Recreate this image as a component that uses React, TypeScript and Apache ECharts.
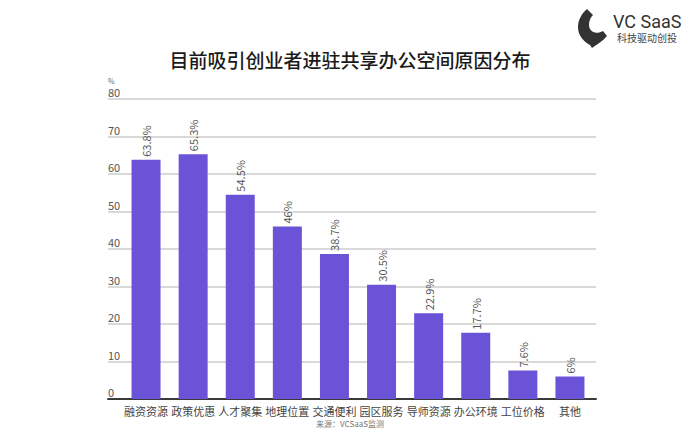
import React, { useEffect, useRef } from "react";
import * as echarts from "echarts";

const categories = ["融资资源", "政策优惠", "人才聚集", "地理位置", "交通便利", "园区服务", "导师资源", "办公环境", "工位价格", "其他"];
const values = [63.8, 65.3, 54.5, 46, 38.7, 30.5, 22.9, 17.7, 7.6, 6];
const titleText = "目前吸引创业者进驻共享办公空间原因分布";
const sourceText = "来源：VCSaaS监测";
const brandName = "VC SaaS";
const brandSlogan = "科技驱动创投";

const LOGO_D =
  "M 9 0 L 15 6 C 11 10 10 16 12 20 C 14 24 20 25 25 22 L 29 27 C 25 32 19 35 14 39 L 12 36 C 5 32 0 26 0 18 C 0 11 4 4 9 0 Z";
echarts.graphic.registerShape("logo", echarts.graphic.extendPath(LOGO_D, {}) as any);

export default function App() {
  const ref = useRef<HTMLDivElement>(null);
  useEffect(() => {
    if (!ref.current) return;
    const chart = echarts.init(ref.current, null, { renderer: "svg" });
    const font = "'Noto Sans CJK SC', 'Noto Sans', sans-serif";
    chart.setOption({
      animation: false,
      backgroundColor: "#ffffff",
      textStyle: { fontFamily: font },
      title: {
        text: titleText,
        left: "center",
        top: 45,
        textStyle: { fontSize: 19, fontWeight: 500, color: "#1a1a1a", fontFamily: font },
      },
      grid: [
        { left: 108, right: 104, top: 99, bottom: 36 },
        { left: 122.5, right: 106.5, top: 99, bottom: 36 },
      ],
      xAxis: [
        {
          gridIndex: 0,
          type: "value",
          min: 0,
          max: 1,
          axisLine: { show: true, lineStyle: { color: "#3a3a3a", width: 2 } },
          axisTick: { show: false },
          axisLabel: { show: false },
          splitLine: { show: false },
        },
        {
          gridIndex: 1,
          type: "category",
          data: categories,
          axisLine: { show: false },
          axisTick: { show: false },
          axisLabel: { color: "#444", fontSize: 11, margin: 6, interval: 0 },
        },
      ],
      yAxis: [
        {
          gridIndex: 0,
          type: "value",
          min: 0,
          max: 80,
          interval: 10,
          name: "%",
          nameLocation: "end",
          nameGap: 15,
          nameTextStyle: { fontSize: 7, color: "#666", align: "left", lineHeight: 7 },
          axisLine: { show: false },
          axisTick: { show: false },
          axisLabel: {
            inside: true,
            margin: 0,
            align: "left",
            verticalAlign: "bottom",
            lineHeight: 10,
            padding: [0, 0, 2, 0],
            color: "#555",
            fontSize: 11,
          },
          splitLine: { show: true, lineStyle: { color: "#cccccc", width: 1.5 } },
        },
        {
          gridIndex: 1,
          type: "value",
          min: 0,
          max: 80,
          interval: 10,
          show: false,
          splitLine: { show: false },
        },
      ],
      series: [
        {
          type: "bar",
          xAxisIndex: 1,
          yAxisIndex: 1,
          data: values,
          barWidth: 29,
          itemStyle: { color: "#6b53d8" },
          label: {
            show: true,
            position: "top",
            rotate: 90,
            align: "left",
            verticalAlign: "middle",
            distance: 3,
            formatter: "{c}%",
            color: "#555",
            fontSize: 11,
          },
          z: 1,
        },
      ],
      graphic: [
        {
          type: "logo",
          x: 578,
          y: 9,
          style: { fill: "#333333" },
        },
        {
          type: "text",
          left: 613,
          top: 11,
          style: { text: brandName, fontSize: 18, lineHeight: 20, fill: "#333", fontFamily: "Roboto, sans-serif" },
        },
        {
          type: "text",
          left: 617,
          top: 32,
          style: { text: brandSlogan, fontSize: 10, lineHeight: 11, fill: "#444", fontFamily: font },
        },
        {
          type: "text",
          left: "center",
          top: 419,
          style: { text: sourceText, fontSize: 8, fill: "#777", fontFamily: font },
        },
      ],
    });
    return () => chart.dispose();
  }, []);
  return (
    <div
      ref={ref}
      style={{ position: "fixed", left: 0, top: 0, width: 700, height: 435 }}
    />
  );
}
